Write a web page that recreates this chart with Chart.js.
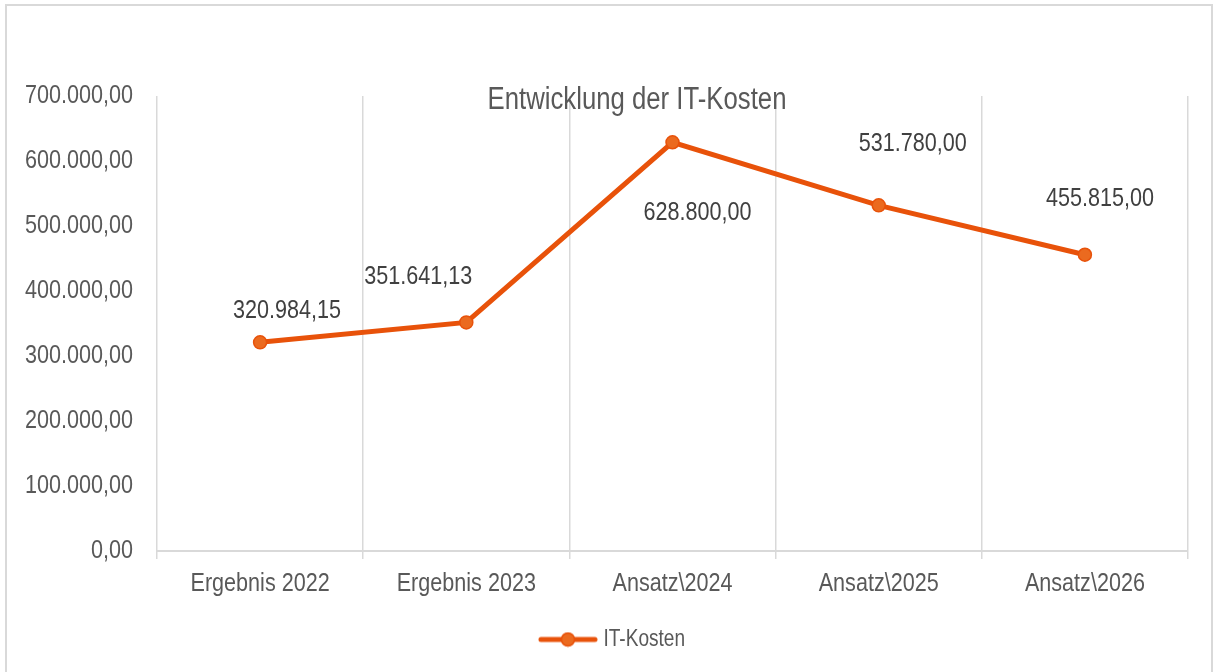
<!DOCTYPE html>
<html>
<head>
<meta charset="utf-8">
<script src="https://cdn.jsdelivr.net/npm/chart.js@4.4.1/dist/chart.umd.min.js"></script>
<style>
  html, body { margin: 0; padding: 0; background: #fff; }
  #wrap { position: relative; width: 1215px; height: 672px; }
</style>
</head>
<body>
<div id="wrap"><canvas id="chart" width="1215" height="672"></canvas></div>
<script>
// --- DATEN ---
const categories = ['Ergebnis 2022', 'Ergebnis 2023', 'Ansatz\\2024', 'Ansatz\\2025', 'Ansatz\\2026'];
const itKosten = [320984.15, 351641.13, 628800.00, 531780.00, 455815.00];
const yTicks = [0, 100000, 200000, 300000, 400000, 500000, 600000, 700000];

// Versatz der Datenbeschriftungen relativ zum Punkt (px)
const labelOffsets = [[27, -32], [-48, -46], [25, 71], [34, -62], [15, -56]];

const FONT = '"Liberation Sans", Arial, sans-serif';
const NARROW = 0.83; // Schrift im Original ist schmal (Arial Narrow o.ä.)
const LINE_COLOR = '#E8520A';
const MARKER_FILL = '#EB6A1F';

// deutsches Zahlenformat: 1.234.567,89
const fmtDE = (v) => {
    const [int, dec] = Math.abs(v).toFixed(2).split('.');
    return (v < 0 ? '-' : '') + int.replace(/\B(?=(\d{3})+(?!\d))/g, '.') + ',' + dec;
};

// Legendensymbol: Linie mit Marker
const legendIcon = document.createElement('canvas');
legendIcon.width = 60; legendIcon.height = 16;
(() => {
    const c = legendIcon.getContext('2d');
    c.strokeStyle = LINE_COLOR; c.lineWidth = 5; c.lineCap = 'round';
    c.beginPath(); c.moveTo(3, 8); c.lineTo(57, 8); c.stroke();
    c.fillStyle = MARKER_FILL; c.strokeStyle = LINE_COLOR; c.lineWidth = 1.5;
    c.beginPath(); c.arc(30, 8, 6.5, 0, Math.PI * 2); c.fill(); c.stroke();
})();

// schmale Schrift nachbilden: Text horizontal stauchen
const canvas = document.getElementById('chart');
const ctx2d = canvas.getContext('2d');
const origFill = ctx2d.fillText.bind(ctx2d);
const origMeasure = ctx2d.measureText.bind(ctx2d);
ctx2d.fillText = function (text, x, y, maxWidth) {
    this.save();
    this.translate(x, y);
    this.scale(NARROW, 1);
    if (maxWidth !== undefined) origFill(text, 0, 0, maxWidth / NARROW);
    else origFill(text, 0, 0);
    this.restore();
};
ctx2d.measureText = function (text) {
    const m = origMeasure(text);
    return {
        width: m.width * NARROW,
        actualBoundingBoxAscent: m.actualBoundingBoxAscent,
        actualBoundingBoxDescent: m.actualBoundingBoxDescent,
        actualBoundingBoxLeft: m.actualBoundingBoxLeft * NARROW,
        actualBoundingBoxRight: m.actualBoundingBoxRight * NARROW,
    };
};

const frame = {
    id: 'frame',
    beforeDraw(chart) {
        const ctx = chart.ctx;
        ctx.save();
        ctx.strokeStyle = '#d9d9d9';
        ctx.lineWidth = 2;
        ctx.strokeRect(6, 5, 1206, 700);
        ctx.restore();
    }
};

// Legende wie im Original etwas nach rechts
const legendShift = {
    id: 'legendShift',
    afterLayout(chart) {
        if (chart.legend) chart.legend.left += 41;
    }
};

const overlayText = {
    id: 'overlayText',
    afterDatasetsDraw(chart) {
        const ctx = chart.ctx;
        ctx.save();
        // Titel (liegt im Diagrammbereich wie im Original)
        ctx.font = '31px ' + FONT;
        ctx.fillStyle = '#595959';
        ctx.textAlign = 'center';
        ctx.textBaseline = 'middle';
        ctx.fillText('Entwicklung der IT-Kosten', 637, 100);
        // Datenbeschriftungen
        ctx.font = '26px ' + FONT;
        ctx.fillStyle = '#404040';
        chart.getDatasetMeta(0).data.forEach((pt, i) => {
            const [dx, dy] = labelOffsets[i];
            ctx.fillText(fmtDE(itKosten[i]), pt.x + dx, pt.y + dy);
        });
        ctx.restore();
    }
};

new Chart(canvas, {
    type: 'line',
    data: {
        labels: categories,
        datasets: [{
            label: 'IT-Kosten',
            data: itKosten,
            borderColor: LINE_COLOR,
            borderWidth: 5,
            backgroundColor: MARKER_FILL,
            pointBackgroundColor: MARKER_FILL,
            pointBorderColor: LINE_COLOR,
            pointBorderWidth: 1.5,
            pointRadius: 6.5,
            tension: 0,
            pointStyle: 'circle',
        }]
    },
    options: {
        responsive: false,
        animation: false,
        layout: { padding: { left: 0, right: 27, top: 96, bottom: 11 } },
        scales: {
            x: {
                offset: true,
                grid: { offset: true, color: '#d9d9d9', lineWidth: 1.5, tickLength: 8, tickColor: '#d9d9d9' },
                border: { color: '#d9d9d9', width: 2 },
                ticks: { color: '#595959', font: { family: FONT, size: 26 }, padding: 9, maxRotation: 0 },
                afterFit: (s) => { s.height = 67; }
            },
            y: {
                min: 0,
                max: 700000,
                afterBuildTicks: (s) => { s.ticks = yTicks.map(v => ({ value: v })); },
                grid: { display: false, drawTicks: false },
                border: { display: false },
                ticks: { color: '#595959', font: { family: FONT, size: 26 }, padding: 24, callback: (v) => fmtDE(v) },
                afterFit: (s) => { s.width = 157; }
            }
        },
        plugins: {
            title: { display: false },
            tooltip: { enabled: false },
            legend: {
                position: 'bottom',
                labels: {
                    usePointStyle: true,
                    pointStyleWidth: 48,
                    color: '#595959',
                    font: { family: FONT, size: 23 },
                    padding: 10,
                    generateLabels: (chart) => chart.data.datasets.map((ds, i) => ({
                        text: ds.label,
                        pointStyle: legendIcon,
                        fontColor: '#595959',
                        datasetIndex: i,
                        lineWidth: 0,
                    }))
                }
            }
        }
    },
    plugins: [frame, legendShift, overlayText]
});
</script>
</body>
</html>
